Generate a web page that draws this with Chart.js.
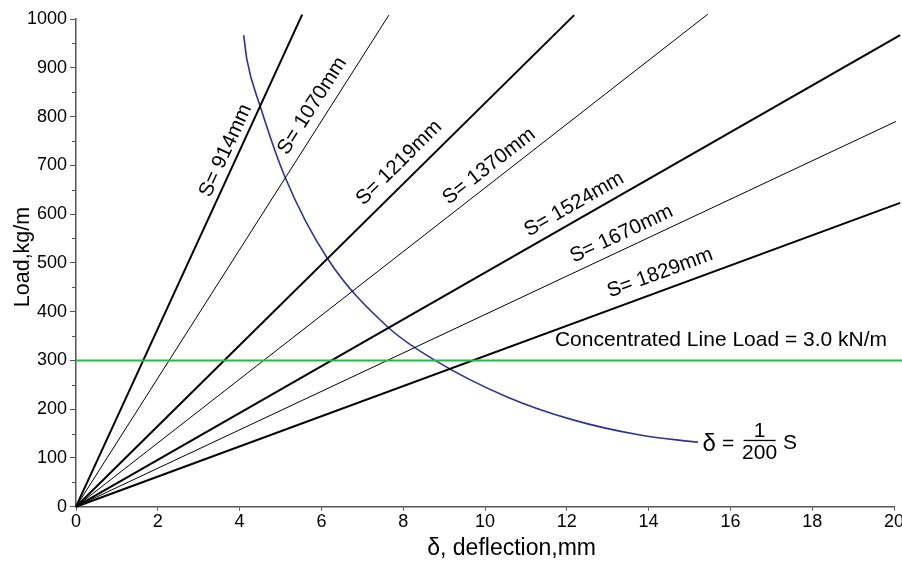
<!DOCTYPE html>
<html>
<head>
<meta charset="utf-8">
<title>Load vs deflection</title>
<script src="https://cdn.jsdelivr.net/npm/chart.js@4.4.1/dist/chart.umd.min.js"></script>
<style>
  html, body { margin: 0; padding: 0; background: #fff; }
  #wrap { width: 902px; height: 568px; }
</style>
</head>
<body>
<div id="wrap"><canvas id="chart" width="902" height="568"></canvas></div>
<script>
// ---- data ----
// Joist spans and the end point of each load/deflection line (from the origin)
const spanLabels        = ['S= 914mm', 'S= 1070mm', 'S= 1219mm', 'S= 1370mm', 'S= 1524mm', 'S= 1670mm', 'S= 1829mm'];
const spanEndDeflection = [5.53, 7.65, 12.18, 15.45, 20.15, 20.05, 20.15];   // mm
const spanEndLoad       = [1009, 1008, 1008, 1010, 967, 790, 623];           // kg/m

// Deflection limit curve, delta = S/200
const limitDeflection = [4.10, 4.18, 4.50, 5.11, 6.14, 7.63, 8.78, 10.54, 12.15, 13.79, 15.21];
const limitLoad       = [967, 916, 822, 676, 510, 368, 300, 225, 178, 147, 132];

// Concentrated line load level (3.0 kN/m ~ 300 kg/m)
const lineLoadLevel  = 300;
const lineLoadExtent = [0, 20.2];

const xTickStep = 2;
const yTickStep = 100;

// ---- styling ----
const FONT = '"Liberation Sans", Arial, Helvetica, sans-serif';
const AXIS = '#555555';
const spanWidths = [2, 1, 2, 1, 2, 1, 2];
// label centres in data units (deflection, load)
const spanLabelAt = [[3.66, 730], [5.78, 822], [7.90, 705], [10.10, 698], [12.18, 620], [13.34, 559], [14.28, 479]];

const datasets = [];
datasets.push({
  label: 'Concentrated Line Load = 3.0 kN/m',
  data: lineLoadExtent.map(d => ({ x: d, y: lineLoadLevel })),
  borderColor: '#22bb44', borderWidth: 2, showLine: true, pointRadius: 0, clip: false
});
spanLabels.forEach((name, i) => {
  datasets.push({
    label: name,
    data: [{ x: 0, y: 0 }, { x: spanEndDeflection[i], y: spanEndLoad[i] }],
    borderColor: '#000', borderWidth: spanWidths[i], showLine: true, pointRadius: 0, clip: false
  });
});
datasets.push({
  label: 'delta = S/200',
  data: limitDeflection.map((d, i) => ({ x: d, y: limitLoad[i] })),
  borderColor: '#2e3196', borderWidth: 1.6, showLine: true, pointRadius: 0,
  cubicInterpolationMode: 'monotone', clip: false
});

// Text annotations, minor ticks and axis titles
const annotate = {
  id: 'annotate',
  afterDraw(chart) {
    const { ctx, chartArea: ca } = chart;
    const x = chart.scales.x, y = chart.scales.y;
    ctx.save();

    // minor ticks on the load axis
    ctx.strokeStyle = AXIS; ctx.lineWidth = 1;
    for (let v = yTickStep / 2; v < 1000; v += yTickStep) {
      const py = Math.round(y.getPixelForValue(v)) + 0.5;
      ctx.beginPath(); ctx.moveTo(ca.left - 4, py); ctx.lineTo(ca.left, py); ctx.stroke();
    }

    // span labels along their lines
    ctx.fillStyle = '#000';
    ctx.font = '20.5px ' + FONT;
    ctx.textAlign = 'center'; ctx.textBaseline = 'middle';
    spanLabels.forEach((t, i) => {
      const ang = Math.atan2(y.getPixelForValue(spanEndLoad[i]) - y.getPixelForValue(0),
                             x.getPixelForValue(spanEndDeflection[i]) - x.getPixelForValue(0));
      ctx.save();
      ctx.translate(x.getPixelForValue(spanLabelAt[i][0]), y.getPixelForValue(spanLabelAt[i][1]));
      ctx.rotate(ang);
      ctx.fillText(t, 0, 0);
      ctx.restore();
    });

    // line load caption
    ctx.font = '21px ' + FONT;
    ctx.textAlign = 'left'; ctx.textBaseline = 'alphabetic';
    ctx.fillText('Concentrated Line Load = 3.0 kN/m', x.getPixelForValue(11.71), y.getPixelForValue(lineLoadLevel) - 14);

    // formula at the end of the limit curve
    const n = limitDeflection.length - 1;
    const bx = x.getPixelForValue(limitDeflection[n]);
    const by = y.getPixelForValue(limitLoad[n]);
    ctx.textAlign = 'left';
    ctx.font = '24px ' + FONT;
    ctx.fillText('\u03B4', bx + 4.5, by + 9);
    ctx.font = '21px ' + FONT;
    ctx.fillText('=', bx + 24, by + 8);
    ctx.fillRect(bx + 45.5, by - 2.5, 32, 1.3);
    ctx.textAlign = 'center';
    ctx.fillText('1', bx + 61.5, by - 5.5);
    ctx.fillText('200', bx + 61.5, by + 16.5);
    ctx.textAlign = 'left';
    ctx.fillText('S', bx + 85, by + 7);

    // axis titles
    ctx.font = '23px ' + FONT;
    ctx.textAlign = 'center'; ctx.textBaseline = 'alphabetic';
    ctx.fillText('\u03B4, deflection,mm', x.getPixelForValue(10.65), 555);
    ctx.save();
    ctx.translate(28.5, y.getPixelForValue(512));
    ctx.rotate(-Math.PI / 2);
    ctx.font = '21.5px ' + FONT;
    ctx.fillText('Load,kg/m', 0, 0);
    ctx.restore();

    ctx.restore();
  }
};

new Chart(document.getElementById('chart'), {
  type: 'scatter',
  data: { datasets },
  options: {
    responsive: false,
    animation: false,
    devicePixelRatio: 1,
    layout: { padding: { top: 19, right: 8, left: 0, bottom: 0 } },
    plugins: { legend: { display: false }, tooltip: { enabled: false } },
    scales: {
      x: {
        type: 'linear', min: 0, max: 20,
        ticks: { stepSize: xTickStep, color: '#000', padding: 1, maxRotation: 0,
                 font: { family: FONT, size: 18 }, callback: v => String(v) },
        grid: { drawOnChartArea: false, drawTicks: true, tickLength: 4, color: AXIS },
        border: { display: true, color: AXIS, width: 1.5 },
        afterFit(s) { s.height = 61.3; s.paddingLeft = 0; s.paddingRight = 0; }
      },
      y: {
        type: 'linear', min: 0, max: 1000,
        ticks: { stepSize: yTickStep, color: '#000', padding: 3,
                 font: { family: FONT, size: 18 }, callback: v => String(v) },
        grid: { drawOnChartArea: false, drawTicks: true, tickLength: 6, color: AXIS },
        border: { display: true, color: AXIS, width: 1.5 },
        afterFit(s) { s.width = 76; s.paddingTop = 0; s.paddingBottom = 0; }
      }
    }
  },
  plugins: [annotate]
});
</script>
</body>
</html>
